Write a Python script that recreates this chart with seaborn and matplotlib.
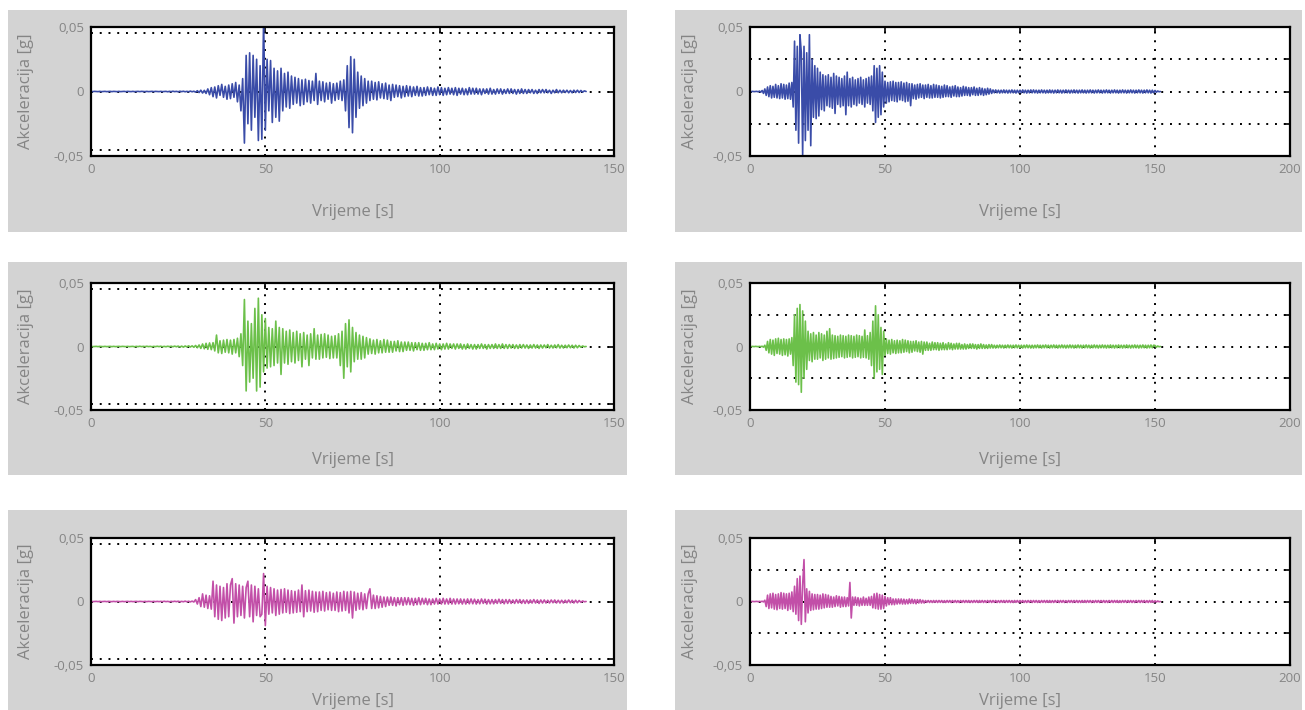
import numpy as np
import matplotlib
matplotlib.use("Agg")
import matplotlib.pyplot as plt
from matplotlib.patches import Rectangle
import seaborn as sns

# sampling step of the records [s]
DT = 0.5
# records below are in units of 1e-4 g
SCALE = 1e-4

# record 1, horizontal component (blue, left)
acc_a = [
    1, -1, 1, 0, -1, 1, -1, 0, 1, -1,
    0, 1, -1, 1, 0, -1, 1, -1, 0, 1,
    -1, 1, 0, -1, 1, -1, 0, 1, -1, 1,
    0, -1, 1, -1, 0, 1, -1, 1, 0, -1,
    1, -1, 0, 1, -2, 1, -1, 2, -1, 1,
    -2, 2, -1, 2, -2, 1, -2, 3, -2, 2,
    -5, 6, -8, 10, -12, 9, -15, 20, -25, 30,
    -40, 35, -50, 45, -30, 55, -45, 40, -60, 50,
    -55, 60, -45, 70, -80, 50, -150, 100, -400, 280,
    -250, 300, -300, 280, -200, 250, -380, 200, -370, 560,
    -300, 250, -150, 240, -240, 180, -200, 160, -230, 180,
    -150, 140, -120, 150, -130, 120, -100, 110, -90, 100,
    -110, 90, -100, 95, -80, 85, -90, 80, -70, 140,
    -100, 80, -70, 75, -80, 65, -60, 70, -90, 60,
    -70, 65, -60, 80, -70, 90, -150, 200, -280, 270,
    -320, 250, -200, 150, -130, 120, -110, 100, -90, 80,
    -70, 80, -60, 70, -65, 75, -50, 60, -55, 65,
    -60, 50, -70, 55, -45, 50, -40, 45, -50, 40,
    -40, 45, -35, 40, -40, 35, -30, 40, -35, 30,
    -35, 30, -30, 35, -25, 30, -30, 25, -30, 35,
    -25, 30, -30, 25, -25, 30, -20, 25, -25, 30,
    -30, 25, -20, 25, -25, 20, -25, 30, -20, 25,
    -20, 25, -20, 20, -25, 20, -15, 20, -20, 25,
    -20, 15, -20, 20, -15, 20, -20, 15, -15, 20,
    -15, 20, -15, 15, -20, 15, -15, 20, -15, 15,
    -15, 15, -10, 15, -15, 10, -15, 15, -10, 15,
    -10, 15, -10, 10, -15, 10, -10, 15, -10, 10,
    -10, 10, -8, 10, -10, 8, -10, 10, -8, 10,
    -8, 8, -5, 5, 0,
]

# record 2, horizontal component (blue, right)
acc_b = [
    1, -1, 1, -1, 0, 1, -2, 3, -5, 8,
    -15, 20, -30, 35, -40, 45, -50, 40, -45, 55,
    -50, 45, -55, 60, -50, 55, -60, 50, -55, 65,
    -60, 70, -120, 390, -300, 350, -400, 440, 300, -490,
    350, -380, 300, -300, 440, -420, 250, -200, 200, -210,
    180, -190, 150, -140, 130, -150, 120, -110, 130, -120,
    110, -130, 140, -170, 120, -100, 110, -120, 100, -110,
    120, -180, 150, -110, 100, -120, 110, -100, 90, -110,
    100, -90, 110, -100, 90, -120, 100, -90, 110, -100,
    120, -150, 200, -240, 180, -200, 200, -180, 150, -120,
    80, -90, 70, -80, 75, -70, 80, -75, 70, -80,
    70, -65, 75, -70, 65, -80, 70, -75, 60, -110,
    60, -55, 50, -60, 55, -50, 60, -45, 50, -55,
    50, -45, 55, -50, 45, -50, 55, -45, 50, -45,
    45, -50, 40, -45, 50, -40, 45, -40, 35, -45,
    40, -35, 45, -40, 35, -40, 30, -35, 40, -30,
    35, -30, 30, -35, 30, -25, 35, -30, 25, -30,
    30, -25, 25, -30, 20, -25, 25, -20, 20, -15,
    12, -10, 12, -10, 10, -12, 10, -10, 12, -10,
    10, -12, 10, -10, 12, -10, 10, -12, 10, -10,
    10, -10, 12, -10, 10, -12, 10, -10, 12, -10,
    12, -10, 10, -12, 10, -10, 12, -10, 10, -12,
    10, -10, 12, -10, 10, -12, 10, -10, 12, -10,
    10, -12, 10, -10, 12, -10, 10, -12, 10, -10,
    12, -10, 10, -12, 10, -10, 12, -10, 10, -12,
    10, -10, 12, -10, 10, -12, 10, -10, 12, -10,
    10, -12, 10, -10, 12, -10, 10, -12, 10, -10,
    12, -10, 10, -12, 10, -10, 12, -10, 10, -12,
    10, -10, 12, -10, 10, -12, 10, -10, 12, -10,
    10, -12, 10, -10, 12, -10, 10, -12, 10, -10,
    8, -6, 4, -2, 0,
]

# record 1, second component (green, left)
acc_c = [
    1, -1, 0, 1, -1, 1, 0, -1, 1, -1,
    0, 1, -1, 1, -1, 0, 1, -1, 1, 0,
    -1, 1, -1, 0, 1, -2, 1, -1, 2, -1,
    1, -1, 2, -1, 1, -2, 1, -1, 2, -1,
    2, -2, 1, -2, 2, -1, 2, -2, 3, -2,
    3, -4, 3, -5, 4, -3, 5, -4, 5, -6,
    8, -10, 12, -15, 20, -18, 25, -22, 28, -25,
    30, -35, 90, -50, 45, -55, 50, -45, 55, -50,
    50, -60, 55, -50, 65, -80, 100, -150, 370, -350,
    200, -280, 180, -250, 300, -350, 380, -320, 250, -200,
    220, -170, 150, -160, 140, -150, 200, -130, 150, -220,
    140, -130, 120, -140, 130, -120, 110, -130, 120, -110,
    100, -160, 110, -100, 90, -150, 100, -90, 140, -100,
    90, -100, 95, -90, 100, -85, 90, -95, 80, -90,
    85, -90, 100, -150, 120, -250, 180, -160, 210, -200,
    150, -120, 110, -100, 90, -100, 80, -90, 70, -60,
    60, -55, 50, -60, 55, -50, 45, -50, 55, -45,
    50, -45, 40, -45, 40, -35, 45, -40, 35, -40,
    35, -30, 35, -30, 30, -35, 30, -25, 30, -30,
    25, -30, 25, -25, 30, -25, 20, -25, 25, -20,
    20, -25, 20, -20, 25, -20, 20, -15, 20, -20,
    20, -15, 20, -20, 15, -20, 20, -15, 15, -20,
    15, -20, 15, -15, 20, -15, 15, -20, 15, -15,
    15, -15, 20, -15, 15, -15, 20, -15, 15, -15,
    15, -12, 15, -15, 12, -15, 15, -12, 15, -12,
    12, -15, 12, -12, 15, -12, 12, -15, 12, -12,
    12, -10, 15, -12, 10, -12, 12, -10, 15, -12,
    10, -12, 10, -10, 12, -10, 10, -12, 10, -10,
    8, -6, 4, -2, 0,
]

# record 2, second component (green, right)
acc_d = [
    1, -1, 1, -1, 1, 0, -1, 1, -1, 2,
    -5, 10, -30, 40, -50, 55, -60, 50, -70, 60,
    -55, 65, -60, 55, -70, 60, -65, 55, -75, 60,
    -60, 70, -150, 250, -280, 300, -300, 330, -360, 280,
    -250, 200, -180, 120, -110, 100, -120, 110, -100, 90,
    -100, 110, -90, 100, -110, 90, -100, 120, -90, 140,
    -100, 90, -95, 85, -90, 80, -85, 90, -80, 85,
    -90, 80, -85, 90, -80, 85, -90, 80, -85, 90,
    -80, 85, -90, 80, -85, 130, -90, 85, -100, 110,
    -150, 200, -250, 320, -200, 250, -180, 150, -220, 120,
    -70, 60, -55, 50, -60, 55, -50, 45, -55, 50,
    -50, 45, -50, 55, -45, 50, -40, 45, -50, 40,
    -45, 40, -35, 45, -40, 35, -45, 40, -60, 35,
    -30, 35, -30, 25, -30, 35, -25, 30, -25, 30,
    -30, 25, -25, 30, -25, 20, -25, 30, -20, 25,
    -25, 20, -20, 25, -20, 25, -20, 15, -20, 20,
    -20, 15, -15, 20, -15, 20, -15, 15, -20, 15,
    -15, 20, -15, 15, -15, 12, -15, 15, -12, 15,
    -12, 10, -12, 10, -10, 12, -10, 10, -12, 10,
    -10, 12, -10, 10, -12, 10, -10, 12, -10, 10,
    -10, 10, -12, 10, -10, 12, -10, 10, -12, 10,
    -12, 10, -10, 12, -10, 10, -12, 10, -10, 12,
    -10, 10, -12, 10, -10, 12, -10, 10, -12, 10,
    -10, 12, -10, 10, -12, 10, -10, 12, -10, 10,
    -12, 10, -10, 12, -10, 10, -12, 10, -10, 12,
    -10, 10, -12, 10, -10, 12, -10, 10, -12, 10,
    -10, 12, -10, 10, -12, 10, -10, 12, -10, 10,
    -12, 10, -10, 12, -10, 10, -12, 10, -10, 12,
    -10, 10, -12, 10, -10, 12, -10, 10, -12, 10,
    -10, 12, -10, 10, -12, 10, -10, 12, -10, 10,
    8, -6, 4, -2, 0,
]

# record 1, vertical component (magenta, left)
acc_e = [
    1, -1, 0, 1, -1, 1, -1, 0, 1, -1,
    1, 0, -1, 1, -1, 1, 0, -1, 1, -1,
    0, 1, -1, 1, -1, 0, 1, -1, 1, 0,
    -1, 1, -1, 1, 0, -1, 1, -1, 1, -1,
    1, -1, 2, -1, 1, -2, 1, -1, 2, -1,
    2, -2, 1, -2, 3, -2, 2, -3, 3, -4,
    15, -20, 30, -40, 60, -45, 50, -55, 45, -60,
    160, -120, 130, -140, 120, -150, 110, -130, 140, -120,
    130, 180, -170, 140, -120, 130, -110, 120, -130, 110,
    160, -120, 130, -160, 120, -110, 100, -120, -100, 220,
    -190, 120, -100, 110, -90, 100, -110, 90, -100, 95,
    -90, 100, -85, 90, -95, 85, -90, 80, -85, 90,
    -80, 130, -120, 85, -80, 90, -75, 80, -85, 75,
    -80, 75, -70, 80, -75, 70, -65, 75, -70, 65,
    -70, 75, -80, 70, -75, 80, -70, 75, -90, 80,
    -130, 75, -70, 65, -60, 70, -65, 60, -55, 60,
    100, -55, 50, -55, 45, -50, 40, -45, 35, -40,
    35, -30, 35, -30, 30, -35, 30, -25, 30, -30,
    30, -25, 30, -25, 25, -30, 25, -25, 30, -25,
    25, -20, 25, -25, 20, -25, 20, -20, 25, -20,
    20, -20, 25, -20, 20, -20, 25, -20, 20, -20,
    20, -18, 20, -20, 18, -20, 20, -18, 20, -18,
    18, -20, 15, -18, 20, -15, 18, -20, 15, -18,
    15, -18, 15, -15, 18, -15, 15, -18, 15, -15,
    15, -15, 12, -15, 15, -12, 15, -15, 12, -15,
    12, -15, 12, -12, 15, -12, 12, -15, 12, -12,
    12, -12, 10, -12, 12, -10, 12, -12, 10, -12,
    10, -12, 10, -10, 12, -10, 10, -12, 10, -10,
    8, -6, 4, -2, 0,
]

# record 2, vertical component (magenta, right)
acc_f = [
    1, -1, 1, -1, 0, 1, -1, 1, -1, 2,
    -3, 10, -40, 50, -55, 60, -50, 65, -60, 55,
    -65, 60, -55, 70, -60, 65, -55, 60, -70, 65,
    -60, 75, -80, 120, -100, 180, -150, 200, -180, 130,
    330, -160, 100, -90, 80, -70, 60, -65, 55, -60,
    55, -60, 50, -55, 60, -50, 55, -45, 50, -45,
    40, -45, 35, -40, 45, -35, 40, -45, 35, -40,
    35, -40, 30, -35, 150, -130, 35, -30, 35, -30,
    30, -35, 25, -30, 35, -30, 25, -30, 35, -30,
    40, -50, 60, -55, 65, -60, 55, -60, 50, -55,
    40, -35, 30, -25, 30, -25, 20, -25, 20, -20,
    20, -18, 20, -20, 18, -20, 15, -18, 20, -15,
    18, -15, 15, -18, 15, -12, 15, -12, 10, -12,
    8, -7, 8, -8, 7, -8, 8, -7, 8, -8,
    8, -7, 8, -8, 7, -8, 8, -7, 8, -8,
    8, -7, 8, -8, 7, -8, 8, -7, 8, -8,
    8, -7, 8, -8, 7, -8, 8, -7, 8, -8,
    8, -7, 8, -8, 7, -8, 8, -7, 8, -8,
    8, -7, 8, -8, 7, -8, 8, -7, 8, -8,
    8, -7, 8, -8, 7, -8, 8, -7, 8, -8,
    8, -7, 8, -8, 7, -8, 8, -7, 8, -8,
    8, -7, 8, -8, 7, -8, 8, -7, 8, -8,
    8, -7, 8, -8, 7, -8, 8, -7, 8, -8,
    8, -7, 8, -8, 7, -8, 8, -7, 8, -8,
    8, -7, 8, -8, 7, -8, 8, -7, 8, -8,
    8, -7, 8, -8, 7, -8, 8, -7, 8, -8,
    8, -7, 8, -8, 7, -8, 8, -7, 8, -8,
    8, -7, 8, -8, 7, -8, 8, -7, 8, -8,
    8, -7, 8, -8, 7, -8, 8, -7, 8, -8,
    8, -7, 8, -8, 7, -8, 8, -7, 8, -8,
    6, -5, 4, -2, 0,
]

blue = "#3a4ca8"
green = "#6cc04a"
magenta = "#c24fa8"

xticks_left = [0, 50, 100, 150]
xticks_right = [0, 50, 100, 150, 200]
yticks = [-0.05, 0, 0.05]
ytick_labels = ["-0,05", "0", "0,05"]
xlabel = "Vrijeme [s]"
ylabel = "Akceleracija [g]"

sns.set_theme(style="white")
plt.rcParams["font.family"] = ["Open Sans", "DejaVu Sans"]
text_grey = "#858585"

W, H = 1305, 710
fig = plt.figure(figsize=(W / 100, H / 100), dpi=100)
fig.patch.set_facecolor("white")

# pixel layout (left, right) per column, (top, bottom) per row
cols_ax = [(91, 614), (750, 1290)]
cols_box = [(8, 627), (675, 1302)]
rows_ax = [(27, 156), (283, 410), (538, 665)]
rows_box = [(10, 232), (262, 475), (510, 712)]
xlabel_pad = [20, 16, 6]

panels = [
    (0, 0, acc_a, blue), (0, 1, acc_b, blue),
    (1, 0, acc_c, green), (1, 1, acc_d, green),
    (2, 0, acc_e, magenta), (2, 1, acc_f, magenta),
]

dots = (0, (1, 3.5))

for row, col, acc, color in panels:
    bx0, bx1 = cols_box[col]
    by0, by1 = rows_box[row]
    fig.patches.append(Rectangle((bx0 / W, 1 - by1 / H), (bx1 - bx0) / W, (by1 - by0) / H,
                                 transform=fig.transFigure, facecolor="#d3d3d3",
                                 edgecolor="none", zorder=-10))
    ax0, ax1 = cols_ax[col]
    ay0, ay1 = rows_ax[row]
    ax = fig.add_axes([ax0 / W, 1 - ay1 / H, (ax1 - ax0) / W, (ay1 - ay0) / H])
    ax.set_zorder(5)
    ax.set_facecolor("white")

    y = np.array(acc) * SCALE
    t = np.arange(len(y)) * DT
    sns.lineplot(x=t, y=y, ax=ax, color=color, linewidth=1.2, estimator=None)

    ax.set_ylim(-0.05, 0.05)
    ax.set_yticks(yticks)
    ax.set_yticklabels(ytick_labels)
    if col == 0:
        ax.set_xlim(0, 150)
        ax.set_xticks(xticks_left)
        ax.set_yticks([-0.045, 0.045], minor=True)
    else:
        ax.set_xlim(0, 200)
        ax.set_xticks(xticks_right)
        ax.set_yticks([-0.025, 0.025], minor=True)

    ax.set_axisbelow(True)
    ax.grid(True, which="major", color="black", linestyle=dots, linewidth=1.4)
    ax.grid(True, which="minor", axis="y", color="black", linestyle=dots, linewidth=1.4)

    ax.tick_params(which="both", direction="in", top=True, right=True, length=4,
                   width=1.2, color="black", labelcolor=text_grey, labelsize=9.5, pad=5)
    for s in ax.spines.values():
        s.set_visible(True)
        s.set_color("black")
        s.set_linewidth(1.6)

    ax.set_xlabel(xlabel, color=text_grey, fontsize=12, labelpad=xlabel_pad[row])
    ax.set_ylabel(ylabel, color=text_grey, fontsize=12)
    ax.yaxis.set_label_coords((34 - ax0) / (ax1 - ax0) if col == 0 else (698 - ax0) / (ax1 - ax0), 0.5)

fig.savefig("out.png", dpi=100)
